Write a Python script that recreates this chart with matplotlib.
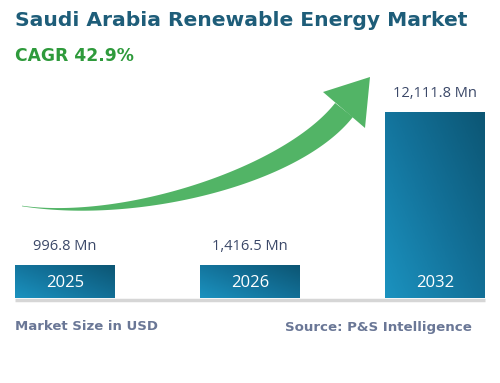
import numpy as np
import matplotlib
matplotlib.use("Agg")
import matplotlib.pyplot as plt
from matplotlib.patches import Polygon
from matplotlib.colors import LinearSegmentedColormap

# ---- data ----
years = ["2025", "2026", "2032"]
values = [996.8, 1416.5, 12111.8]
value_labels = ["996.8 Mn", "1,416.5 Mn", "12,111.8 Mn"]
bar_heights = [33, 33, 186]  # stylised display heights (not proportional in original)
title = "Saudi Arabia Renewable Energy Market"
cagr = "CAGR 42.9%"
footer_left = "Market Size in USD"
footer_right = "Source: P&S Intelligence"

W, H = 500, 383
fig = plt.figure(figsize=(W / 100, H / 100), dpi=100)
fig.patch.set_facecolor("white")

FONT = "Open Sans"
HFONT = "DejaVu Sans"

# overlay axes in pixel coordinates
ov = fig.add_axes([0, 0, 1, 1])
ov.set_xlim(0, W)
ov.set_ylim(H, 0)
ov.axis("off")

# ---- bar axes ----
base_y, top_y = 298, 112
left_px, right_px = 15, 485
ax = fig.add_axes([left_px / W, (H - base_y) / H, (right_px - left_px) / W, (base_y - top_y) / H])
ax.axis("off")
bw = 100 / 185

cmap = LinearSegmentedColormap.from_list("g", ["#1b92bf", "#13729a", "#0c5674"])
bars = ax.bar(range(len(years)), bar_heights, width=bw, color="none", edgecolor="none")
for i, b in enumerate(bars):
    x0, y0 = b.get_x(), b.get_y()
    w, h = b.get_width(), b.get_height()
    gx, gy = np.meshgrid(np.linspace(0, 1, 60), np.linspace(0, 1, 60))
    grad = (gx * 0.55 + gy * 0.45)
    im = ax.imshow(grad, cmap=cmap, extent=[x0, x0 + w, y0, y0 + h], origin="lower",
                   aspect="auto", zorder=1, vmin=0, vmax=1)
    im.set_clip_path(b)
    ax.text(i, 15, years[i], ha="center", va="center", color="white",
            fontsize=12, family=FONT, zorder=3)
    ax.annotate(value_labels[i], (i, bar_heights[i]), xytext=(0, 11), textcoords="offset pixels",
                ha="center", va="bottom", color="#3b4868", fontsize=10.5, family=FONT,
                annotation_clip=False)
ax.set_xlim(-bw / 2, 2 + bw / 2)
ax.set_ylim(0, max(bar_heights))

# baseline
ov.plot([15, 485], [300, 300], color="#d6d6d6", lw=2.5, solid_capstyle="butt")

# ---- curved arrow ----
P0, P1, P2, P3 = map(np.array, [(22, 206), (130, 222), (292, 176), (344, 110)])
t = np.linspace(0, 1, 200)[:, None]
pts = (1 - t) ** 3 * P0 + 3 * (1 - t) ** 2 * t * P1 + 3 * (1 - t) * t ** 2 * P2 + t ** 3 * P3
d = 3 * (1 - t) ** 2 * (P1 - P0) + 6 * (1 - t) * t * (P2 - P1) + 3 * t ** 2 * (P3 - P2)
d = d / np.linalg.norm(d, axis=1, keepdims=True)
nrm = np.column_stack([-d[:, 1], d[:, 0]])
tt = t[:, 0]
wid = 22 * (3 * tt ** 2 - 2 * tt ** 3) ** 0.8 + 0.6
upper = pts + nrm * wid[:, None] / 2
lower = pts - nrm * wid[:, None] / 2
body = np.vstack([upper, lower[::-1]])
green = "#52b466"
ov.add_patch(Polygon(body, closed=True, color=green, lw=0))
ov.add_patch(Polygon([(370, 77), (323, 92), (365, 128)], closed=True, color=green, lw=0))

# ---- titles ----
fig.text(15 / W, 1 - 20 / H, title, ha="left", va="center", fontsize=14.6,
         fontweight="bold", color="#1e5d79", family=HFONT)
fig.text(15 / W, 1 - 56 / H, cagr, ha="left", va="center", fontsize=12.3,
         fontweight="bold", color="#2e9a3b", family=HFONT)

fig.text(15 / W, 1 - 327 / H, footer_left, ha="left", va="center", fontsize=9.5,
         fontweight="bold", color="#6a7796", family=HFONT)
fig.text(472 / W, 1 - 327 / H, footer_right, ha="right", va="center", fontsize=9.6,
         fontweight="bold", color="#6a7796", family=HFONT)

fig.savefig("out.png", dpi=100, facecolor="white")
